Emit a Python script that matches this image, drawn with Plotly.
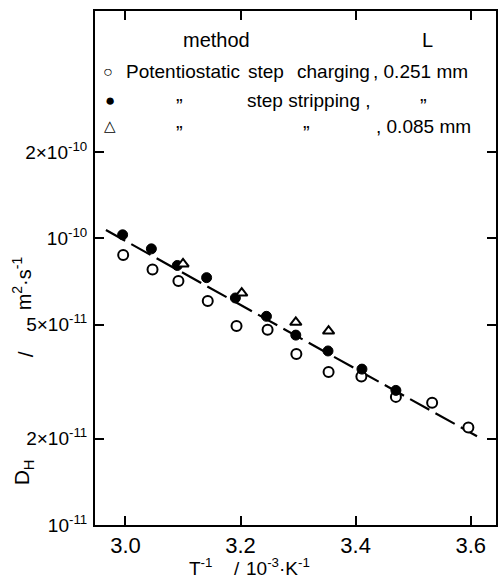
import plotly.graph_objects as go

# ---- data ----
inv_T_stripping = [2.995, 3.045, 3.090, 3.141, 3.191, 3.245, 3.296, 3.352, 3.411, 3.470]
D_stripping = [1.03e-10, 9.2e-11, 8.05e-11, 7.3e-11, 6.2e-11, 5.35e-11, 4.6e-11, 4.05e-11, 3.5e-11, 2.95e-11]

inv_T_charging = [2.996, 3.047, 3.092, 3.143, 3.193, 3.247, 3.297, 3.353, 3.410, 3.470, 3.533, 3.596]
D_charging = [8.75e-11, 7.8e-11, 7.1e-11, 6.05e-11, 4.95e-11, 4.8e-11, 3.95e-11, 3.42e-11, 3.3e-11, 2.8e-11, 2.67e-11, 2.19e-11]

inv_T_thin = [3.100, 3.202, 3.296, 3.353]
D_thin = [8.15e-11, 6.45e-11, 5.1e-11, 4.75e-11]

fit_x = [2.966, 3.611]
fit_y = [1.07e-10, 2.04e-11]

x_ticks = [3.0, 3.2, 3.4, 3.6]
x_ticktext = ["3.0", "3.2", "3.4", "3.6"]
y_ticks = [1e-11, 2e-11, 5e-11, 1e-10, 2e-10]
y_ticktext = ["10<sup>-11</sup>", "2×10<sup>-11</sup>", "5×10<sup>-11</sup>",
              "10<sup>-10</sup>", "2×10<sup>-10</sup>"]

FONT = "Liberation Sans"

fig = go.Figure()
fig.add_trace(go.Scatter(x=fit_x, y=fit_y, mode="lines",
                         line=dict(color="black", width=2.2, dash="22px,7px"),
                         showlegend=False, hoverinfo="skip"))
fig.add_trace(go.Scatter(x=inv_T_charging, y=D_charging, mode="markers",
                         marker=dict(symbol="circle", size=10, color="white",
                                     line=dict(color="black", width=2)),
                         showlegend=False))
fig.add_trace(go.Scatter(x=inv_T_stripping, y=D_stripping, mode="markers",
                         marker=dict(symbol="circle", size=10, color="black",
                                     line=dict(color="black", width=1)),
                         showlegend=False))
fig.add_trace(go.Scatter(x=inv_T_thin, y=D_thin, mode="markers",
                         marker=dict(symbol="triangle-up", size=10, color="white",
                                     line=dict(color="black", width=2)),
                         showlegend=False))

L, R, T, B = 95, 498, 11, 525
W, H = 502, 580


def px(xp):
    return (xp - L) / (R - L)


def py(yp):
    return (B - yp) / (B - T)


annotations = []


def note(text, x, y, xanchor="left", size=19, angle=0, yanchor="middle"):
    annotations.append(dict(text=text, x=px(x), y=py(y), xref="paper", yref="paper",
                            xanchor=xanchor, yanchor=yanchor, showarrow=False,
                            textangle=angle,
                            font=dict(family=FONT, size=size, color="black")))


# legend-like header text
note("method", 217, 40, "center", 20)
note("L", 429, 40, "center", 20)
note("○", 108, 71, "center", 16)
note("Potentiostatic", 124, 71, "left", 19)
note("step", 247, 71, "left", 19)
note("charging", 296, 71, "left", 19)
note(", 0.251 mm", 372, 71, "left", 19)
note("●", 110, 100, "center", 17)
note("\u201d", 180, 106, "center", 20)
note("step stripping ,", 246, 100, "left", 19)
note("\u201d", 425, 106, "center", 20)
note("△", 110, 126, "center", 15)
note("\u201d", 180, 133, "center", 20)
note("\u201d", 308, 133, "center", 20)
note(", 0.085 mm", 375, 127, "left", 19)

# axis titles
note("T<sup>-1</sup>", 201, 567, "center", 19)
note("/", 238, 568, "center", 19)
note("10<sup>-3</sup>·K<sup>-1</sup>", 245, 567, "left", 19)
note("D<sub>H</sub>", 23, 472, "center", 21, -90)
note("/", 25, 354, "center", 21, -90)
note("m<sup>2</sup>·s<sup>-1</sup>", 21, 283, "center", 20, -90)

fig.update_layout(
    width=W, height=H,
    margin=dict(l=L, r=W - R, t=T, b=H - B, pad=0),
    paper_bgcolor="white", plot_bgcolor="white",
    font=dict(family=FONT, size=20, color="black"),
    annotations=annotations,
    showlegend=False,
)
fig.update_xaxes(range=[2.947, 3.644], tickvals=x_ticks, ticktext=x_ticktext,
                 showline=True, linecolor="black", linewidth=2, mirror="ticks",
                 ticks="inside", ticklen=9, tickwidth=2, tickcolor="black",
                 showgrid=False, zeroline=False, tickfont=dict(size=22))
fig.update_yaxes(type="log", range=[-11, -9.206], tickvals=y_ticks, ticktext=y_ticktext,
                 showline=True, linecolor="black", linewidth=2, mirror="ticks",
                 ticks="inside", ticklen=9, tickwidth=2, tickcolor="black",
                 showgrid=False, zeroline=False, tickfont=dict(size=19),
                 ticklabelstandoff=2)

fig.write_html("out.html")
